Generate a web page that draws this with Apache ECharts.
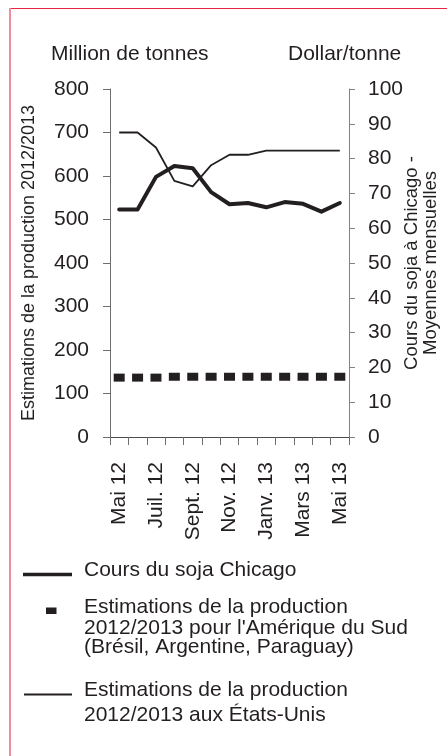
<!DOCTYPE html>
<html>
<head>
<meta charset="utf-8">
<script src="https://cdn.jsdelivr.net/npm/echarts@6/dist/echarts.min.js"></script>
<style>
  html, body { margin: 0; padding: 0; background: #fff; }
  #main { width: 447px; height: 756px; }
</style>
</head>
<body>
<div id="main"></div>
<script>
// mois (mai 2012 - mai 2013)
const mois = ['Mai 12', 'Juin 12', 'Juil. 12', 'Août 12', 'Sept. 12', 'Oct. 12', 'Nov. 12',
    'Déc. 12', 'Janv. 13', 'Févr. 13', 'Mars 13', 'Avr. 13', 'Mai 13'];

// trait épais (axe de gauche)
const coursChicago = [523, 523, 598, 623, 618, 563, 535, 538, 528, 540, 536, 518, 538];
// carrés (axe de gauche)
const prodAmeriqueSud = [136.5, 136.5, 136.5, 138.5, 138.5, 138.5, 138.5, 138.5, 138.5, 138.5, 138.5, 138.5, 138.5];
// trait fin (axe de droite)
const prodEtatsUnis = [87.5, 87.5, 83.2, 73.6, 72.0, 78.1, 81.1, 81.1, 82.3, 82.3, 82.3, 82.3, 82.3];

const police = 'Liberation Sans, Arial, sans-serif';
const noir = '#231f20';

/* ============================
   LÉGENDE (dessinée à la main)
============================ */
const graphiques = [
    // cadre
    { type: 'line', shape: { x1: 9, y1: 8.5, x2: 447, y2: 8.5 }, style: { stroke: '#e8253f', lineWidth: 1 } },
    { type: 'line', shape: { x1: 10, y1: 8, x2: 10, y2: 756 }, style: { stroke: '#f28b9b', lineWidth: 2 } },
    // unités
    { type: 'text', x: 51, y: 54, style: { text: 'Million de tonnes', font: '21px ' + police, fill: noir, verticalAlign: 'middle' } },
    { type: 'text', x: 288, y: 54, style: { text: 'Dollar/tonne', font: '21px ' + police, fill: noir, verticalAlign: 'middle' } },
    // légende
    { type: 'line', shape: { x1: 23, y1: 574.5, x2: 72, y2: 574.5 }, style: { stroke: noir, lineWidth: 3.5 } },
    { type: 'rect', shape: { x: 46, y: 607.5, width: 10.5, height: 6.5 }, style: { fill: noir } },
    { type: 'line', shape: { x1: 24, y1: 694.5, x2: 72, y2: 694.5 }, style: { stroke: noir, lineWidth: 2 } }
];

[
    [570, 'Cours du soja Chicago'],
    [607, 'Estimations de la production'],
    [628, "2012/2013 pour l'Amérique du Sud"],
    [647.5, '(Brésil, Argentine, Paraguay)'],
    [690, 'Estimations de la production'],
    [715, '2012/2013 aux États-Unis']
].forEach(l => {
    graphiques.push({
        type: 'text', x: 84, y: l[0],
        style: { text: l[1], font: '21px ' + police, fill: noir, verticalAlign: 'middle' }
    });
});

/* ============================
   GRAPHIQUE
============================ */
const myChart = echarts.init(document.getElementById('main'));

const option = {
    animation: false,
    textStyle: { fontFamily: police, color: noir },
    grid: { left: 110, right: 98, top: 89, bottom: 319, outerBoundsMode: 'none', containLabel: false },
    xAxis: {
        type: 'category',
        data: mois,
        boundaryGap: true,
        axisLine: { lineStyle: { color: '#4d4d4f', width: 1 } },
        axisTick: { show: true, length: 8, interval: 0, lineStyle: { color: '#6d6e71' } },
        axisLabel: { rotate: 90, interval: 1, margin: 25, fontSize: 21, color: noir, fontFamily: police }
    },
    yAxis: [
        {
            type: 'value', min: 0, max: 800, interval: 100,
            name: 'Estimations de la production 2012/2013',
            nameLocation: 'middle', nameRotate: 90, nameGap: 72, nameMoveOverlap: false,
            nameTextStyle: { fontSize: 18, color: noir, fontFamily: police },
            splitLine: { show: false },
            axisLine: { show: true, lineStyle: { color: '#6d6e71' } },
            axisTick: { show: true, length: 7, lineStyle: { color: '#6d6e71' } },
            axisLabel: { margin: 21, fontSize: 21, color: noir, fontFamily: police }
        },
        {
            type: 'value', min: 0, max: 100, interval: 10, position: 'right',
            name: 'Cours du soja à Chicago -\nMoyennes mensuelles',
            nameLocation: 'middle', nameRotate: 90, nameGap: 53, nameMoveOverlap: false,
            nameTextStyle: { fontSize: 18.5, color: noir, fontFamily: police, lineHeight: 19 },
            splitLine: { show: false },
            axisLine: { show: true, lineStyle: { color: '#808285' } },
            axisTick: { show: true, length: 6, lineStyle: { color: '#808285' } },
            axisLabel: { margin: 19, fontSize: 21, color: noir, fontFamily: police }
        }
    ],
    series: [
        {
            name: 'Cours du soja Chicago',
            type: 'line', yAxisIndex: 0,
            data: coursChicago,
            showSymbol: false,
            lineStyle: { color: noir, width: 4, cap: 'round', join: 'round' }
        },
        {
            name: 'Estimations Amérique du Sud',
            type: 'scatter', yAxisIndex: 0,
            data: prodAmeriqueSud,
            symbol: 'rect', symbolSize: [11, 8],
            itemStyle: { color: noir, opacity: 1 }
        },
        {
            name: 'Estimations États-Unis',
            type: 'line', yAxisIndex: 1,
            data: prodEtatsUnis,
            showSymbol: false,
            lineStyle: { color: noir, width: 1.8, join: 'round' }
        }
    ],
    graphic: graphiques
};

myChart.setOption(option, true);
</script>
</body>
</html>
